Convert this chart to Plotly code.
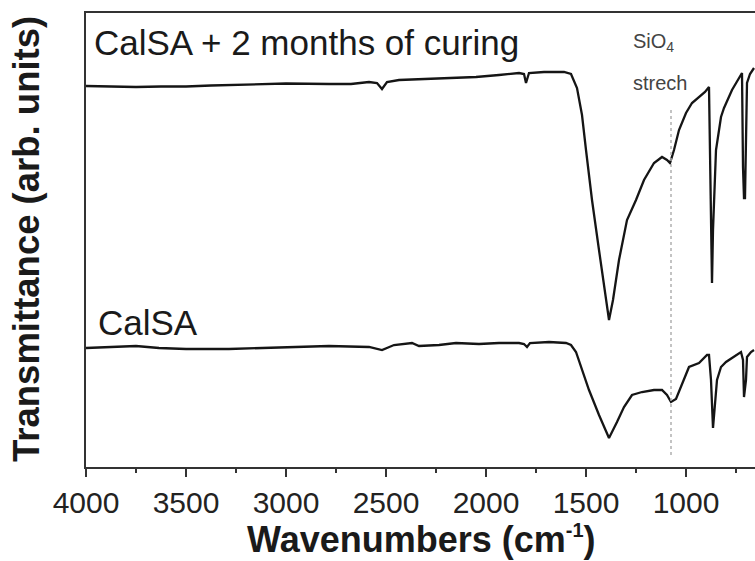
import plotly.graph_objects as go

# ---- data ----
# wavenumbers (cm^-1) and transmittance (arb. units) for the cured sample
wn_cured = [4000, 3885, 3750, 3625, 3500, 3375, 3250, 3125, 3000, 2785, 2675, 2585, 2545,
            2520, 2495, 2435, 2285, 2135, 2050, 1935, 1835, 1810, 1800, 1785, 1710, 1610,
            1575, 1545, 1520, 1500, 1470, 1435, 1405, 1385, 1365, 1335, 1295, 1250, 1210,
            1160, 1120, 1095, 1080, 1060, 1035, 1000, 970, 935, 905, 885, 880, 875, 870,
            865, 855, 850, 825, 810, 770, 735, 720, 715, 710, 705, 700, 695, 680, 660]
t_cured = [381, 380.5, 380, 380.5, 380.5, 381.5, 382, 383, 383.5, 383, 383, 385, 384,
           378, 385, 387, 388, 389, 390, 392, 394, 393, 384, 394, 395, 395,
           393, 379, 352, 317, 267, 217, 172, 147, 167, 207, 247, 267, 287,
           304, 310, 307, 304, 317, 337, 354, 364, 370, 375, 380, 317, 227, 184,
           237, 307, 317, 350, 359, 377, 390, 394, 300, 269, 269, 340, 384, 393, 399]

# untreated sample
wn_calsa = [4000, 3885, 3750, 3635, 3500, 3285, 3135, 3000, 2785, 2585, 2520, 2460, 2370,
            2335, 2235, 2150, 2035, 1935, 1835, 1810, 1795, 1780, 1685, 1600, 1575, 1550,
            1520, 1485, 1435, 1385, 1345, 1310, 1270, 1220, 1160, 1120, 1095, 1075, 1050,
            1025, 985, 935, 895, 885, 875, 865, 855, 845, 825, 800, 770, 725, 715, 710,
            700, 695, 675, 660]
t_calsa = [119, 120, 121, 119, 118, 118, 119, 120, 121, 120, 117, 122, 124,
           121, 122, 124, 123, 124, 124, 123, 120, 124, 125, 124, 122, 115,
           97, 77, 52, 29, 45, 60, 72, 75, 77, 77, 72, 65, 68,
           80, 100, 104, 112, 112, 87, 39, 67, 87, 100, 105, 109, 115, 107, 70,
           87, 110, 115, 117]

sio4_wn = 1075          # position of the SiO4 stretch marker
tick_vals = [4000, 3500, 3000, 2500, 2000, 1500, 1000]
x_range = [4000, 655]
y_range = [0, 454]

fig = go.Figure()
fig.add_trace(go.Scatter(x=wn_cured, y=t_cured, mode="lines",
                         line=dict(color="#151515", width=2.3), showlegend=False))
fig.add_trace(go.Scatter(x=wn_calsa, y=t_calsa, mode="lines",
                         line=dict(color="#151515", width=2.3), showlegend=False))
fig.add_trace(go.Scatter(x=[sio4_wn, sio4_wn], y=[12, 360], mode="lines",
                         line=dict(color="#b0b0b0", width=1.5, dash="dot"), showlegend=False))

FONT = "Arial, Liberation Sans, sans-serif"
ax_col = "#333333"

fig.update_layout(
    width=755, height=561,
    margin=dict(l=86, r=0, t=13, b=94),
    paper_bgcolor="white", plot_bgcolor="white",
    font=dict(family=FONT, color="#222222"),
    xaxis=dict(range=x_range, tickvals=tick_vals, ticktext=[str(v) for v in tick_vals],
               showgrid=False, zeroline=False, showline=True, linecolor=ax_col, linewidth=2,
               mirror=True, ticks="outside", ticklen=8, tickwidth=2, tickcolor=ax_col,
               tickfont=dict(size=30, family=FONT, color="#222222"),
               minor=dict(dtick=250, ticks="outside", ticklen=4, tickwidth=2, tickcolor=ax_col)),
    yaxis=dict(range=y_range, showgrid=False, zeroline=False, showline=True,
               linecolor=ax_col, linewidth=2, mirror=False, showticklabels=False, ticks=""),
)

def px2paper_x(px):
    return (px - 86) / 669

def px2paper_y(py):
    return (467 - py) / 454

annos = [
    dict(text="CalSA + 2 months of curing", x=px2paper_x(92), y=px2paper_y(42),
         xanchor="left", yanchor="middle", font=dict(size=35, color="#1a1a1a")),
    dict(text="CalSA", x=px2paper_x(96), y=px2paper_y(322),
         xanchor="left", yanchor="middle", font=dict(size=35, color="#1a1a1a")),
    dict(text="SiO<sub>4</sub>", x=px2paper_x(631), y=px2paper_y(42),
         xanchor="left", yanchor="middle", font=dict(size=20, color="#444444")),
    dict(text="strech", x=px2paper_x(631), y=px2paper_y(83),
         xanchor="left", yanchor="middle", font=dict(size=20, color="#444444")),
    dict(text="<b>Wavenumbers (cm<sup><span style='font-size:20px'>-1</span></sup>)</b>",
         x=px2paper_x(421), y=px2paper_y(539),
         xanchor="center", yanchor="middle", font=dict(size=36, color="#1a1a1a")),
    dict(text="<b>Transmittance (arb. units)</b>", x=px2paper_x(26), y=px2paper_y(239),
         xanchor="center", yanchor="middle", textangle=-90, font=dict(size=36.5, color="#1a1a1a")),
]
for a in annos:
    a.update(xref="paper", yref="paper", showarrow=False)
    a["font"]["family"] = FONT
fig.update_layout(annotations=annos)

fig.write_html("out.html")
